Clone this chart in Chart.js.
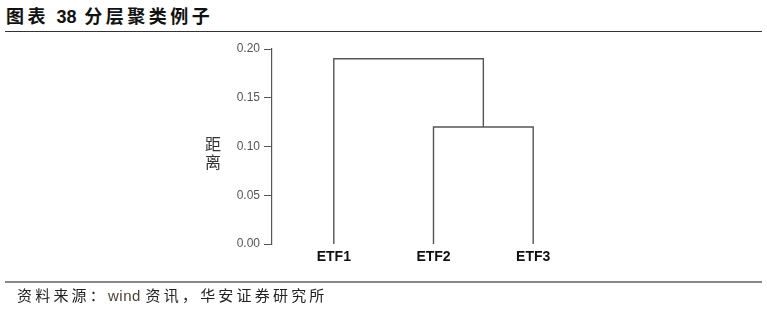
<!DOCTYPE html>
<html>
<head>
<meta charset="utf-8">
<script src="https://cdn.jsdelivr.net/npm/chart.js@4.4.1/dist/chart.umd.min.js"></script>
<style>
  body { margin: 0; background: #fff; }
  #wrap { position: relative; width: 767px; height: 312px; overflow: hidden; }
  #titulo { position: absolute; left: 6px; top: 2px; font-family: "Noto Sans CJK SC", sans-serif; font-weight: bold; font-size: 18px; letter-spacing: 3.5px; color: #111; }
  #titulo .n { font-family: "Liberation Sans", Arial, sans-serif; letter-spacing: 0; }
  #linea1 { position: absolute; left: 5px; top: 31px; width: 757px; height: 1px; background: #333; }
  #linea2 { position: absolute; left: 5px; top: 281px; width: 757px; height: 2px; background: #888; }
  #fuente { position: absolute; left: 17px; top: 284px; font-family: "Noto Sans CJK SC", sans-serif; font-size: 15px; letter-spacing: 3.2px; color: #222; }
  #fuente .w { font-family: "Liberation Sans", Arial, sans-serif; color: #4a4630; letter-spacing: 0.5px; }
  #ejeY { position: absolute; left: 205px; top: 134px; font-family: "Noto Sans CJK SC", sans-serif; font-size: 16px; line-height: 18px; color: #333; }
  canvas { position: absolute; left: 0; top: 0; }
</style>
</head>
<body>
<div id="wrap">
  <div id="titulo">图表 <span class="n">38</span> 分层聚类例子</div>
  <div id="linea1"></div>
  <canvas id="grafico" width="767" height="312"></canvas>
  <div id="ejeY">距<br>离</div>
  <div id="linea2"></div>
  <div id="fuente">资料来源：<span class="w">wind </span>资讯，华安证券研究所</div>
</div>
<script>
// Hojas y uniones del dendrograma
var hojas = ['ETF1', 'ETF2', 'ETF3'];
var posHojas = [1, 2, 3];
// cada unión: [izquierda, derecha, altura]; índices >= 3 son clústeres previos
var uniones = [[1, 2, 0.12], [0, 3, 0.19]];
var ticksY = [0.00, 0.05, 0.10, 0.15, 0.20];

// Construir los segmentos en forma de U
var nodos = posHojas.map(function (x) { return { x: x, y: 0 }; });
var segmentos = [];
uniones.forEach(function (u) {
    var a = nodos[u[0]], b = nodos[u[1]], h = u[2];
    segmentos.push([{ x: a.x, y: a.y }, { x: a.x, y: h }, { x: b.x, y: h }, { x: b.x, y: b.y }]);
    nodos.push({ x: (a.x + b.x) / 2, y: h });
});

var colorLinea = '#555';

new Chart(document.getElementById('grafico').getContext('2d'), {
    type: 'scatter',
    data: {
        datasets: segmentos.map(function (s) {
            return {
                data: s,
                showLine: true,
                borderColor: colorLinea,
                borderWidth: 1.4,
                pointRadius: 0,
                fill: false
            };
        })
    },
    options: {
        responsive: false,
        animation: false,
        layout: { padding: { left: 0, right: 172, top: 49, bottom: 0 } },
        plugins: { legend: { display: false }, tooltip: { enabled: false } },
        scales: {
            x: {
                type: 'linear',
                min: 0.38,
                max: 3.62,
                afterBuildTicks: function (scale) {
                    scale.ticks = posHojas.map(function (v) { return { value: v }; });
                },
                afterFit: function (scale) { scale.height = 68; },
                grid: { display: false, drawTicks: false },
                border: { display: false },
                ticks: {
                    padding: 5,
                    color: '#111',
                    font: { family: '"Liberation Sans", Arial, sans-serif', size: 14, weight: 'bold' },
                    callback: function (v) { return hojas[posHojas.indexOf(v)]; }
                }
            },
            y: {
                min: 0,
                max: 0.2,
                afterBuildTicks: function (scale) {
                    scale.ticks = ticksY.map(function (v) { return { value: v }; });
                },
                afterFit: function (scale) { scale.width = 272; },
                grid: { display: true, drawOnChartArea: false, drawTicks: true, tickLength: 8, color: colorLinea },
                border: { display: true, color: colorLinea, width: 1.2 },
                ticks: {
                    padding: 4,
                    color: '#555',
                    font: { family: '"Liberation Sans", Arial, sans-serif', size: 12 },
                    callback: function (v) { return v.toFixed(2); }
                }
            }
        }
    }
});
</script>
</body>
</html>
